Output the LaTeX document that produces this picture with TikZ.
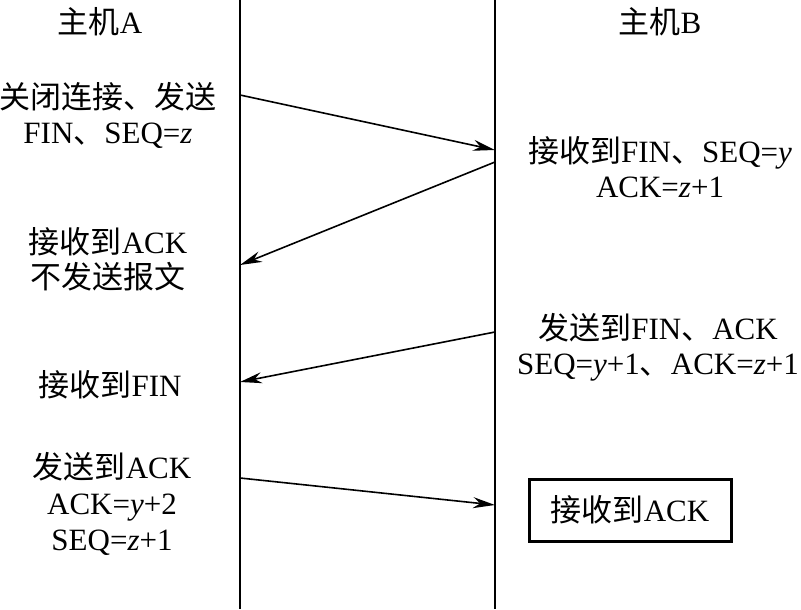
\documentclass[tikz,border=0pt]{standalone}
\usepackage{fontspec}
\setmainfont{Liberation Serif}
\newfontfamily\cjk{Noto Sans CJK SC}
\newcommand{\zh}[1]{{\cjk #1}}
\usetikzlibrary{arrows.meta}
\tikzstyle{host} = [line width=1.2pt]
\tikzstyle{msg} = [line width=0.8pt,-{Stealth[length=11pt,width=5.5pt]}]

\begin{document}
\begin{tikzpicture}[
        x=0.5pt, y=-0.5pt,
        lbl/.style={align=center, inner sep=0pt, font=\fontsize{15.5}{17.5}\selectfont},
        okbox/.style={draw, line width=1.5pt, minimum width=101pt, minimum height=31pt, font=\fontsize{15.5}{17.5}\selectfont},
    ]
        \useasboundingbox (0,0) rectangle (801,609);

        \draw[host] (240,0) -- (240,609);
        \draw[host] (495,0) -- (495,609);

        \coordinate (a1) at (240,95);
        \coordinate (b1) at (495,150);
        \coordinate (b2) at (495,162);
        \coordinate (a2) at (240,265);
        \coordinate (b3) at (495,332);
        \coordinate (a3) at (240,382);
        \coordinate (a4) at (240,478);
        \coordinate (b4) at (495,505);

        \node[lbl] (hostA) at (100,22) {\zh{主机}A};
        \node[lbl] (hostB) at (660,22) {\zh{主机}B};

        \node[lbl] (close) at (108,115) {\zh{关闭连接、发送}\\FIN\zh{、}SEQ=\textit{z}};
        \node[lbl] (recvfin) at (660,167) {\zh{接收到}FIN\zh{、}SEQ=\textit{y}\\ACK=\textit{z}+1};
        \node[lbl] (recvack) at (108,259) {\zh{接收到}ACK\\\zh{不发送报文}};
        \node[lbl] (sendfin) at (658,347) {\zh{发送到}FIN\zh{、}ACK\\SEQ=\textit{y}+1\zh{、}ACK=\textit{z}+1};
        \node[lbl] (gotfin) at (110,385) {\zh{接收到}FIN};
        \node[lbl, font=\fontsize{15.5}{18}\selectfont] (sendack) at (112,504) {\zh{发送到}ACK\\ACK=\textit{y}+2\\SEQ=\textit{z}+1};
        \node[okbox] (done) at (630,510) {\zh{接收到}ACK};

        \draw[msg] (a1) -- (b1);
        \draw[msg] (b2) -- (a2);
        \draw[msg] (b3) -- (a3);
        \draw[msg] (a4) -- (b4);
    \end{tikzpicture}
\end{document}
